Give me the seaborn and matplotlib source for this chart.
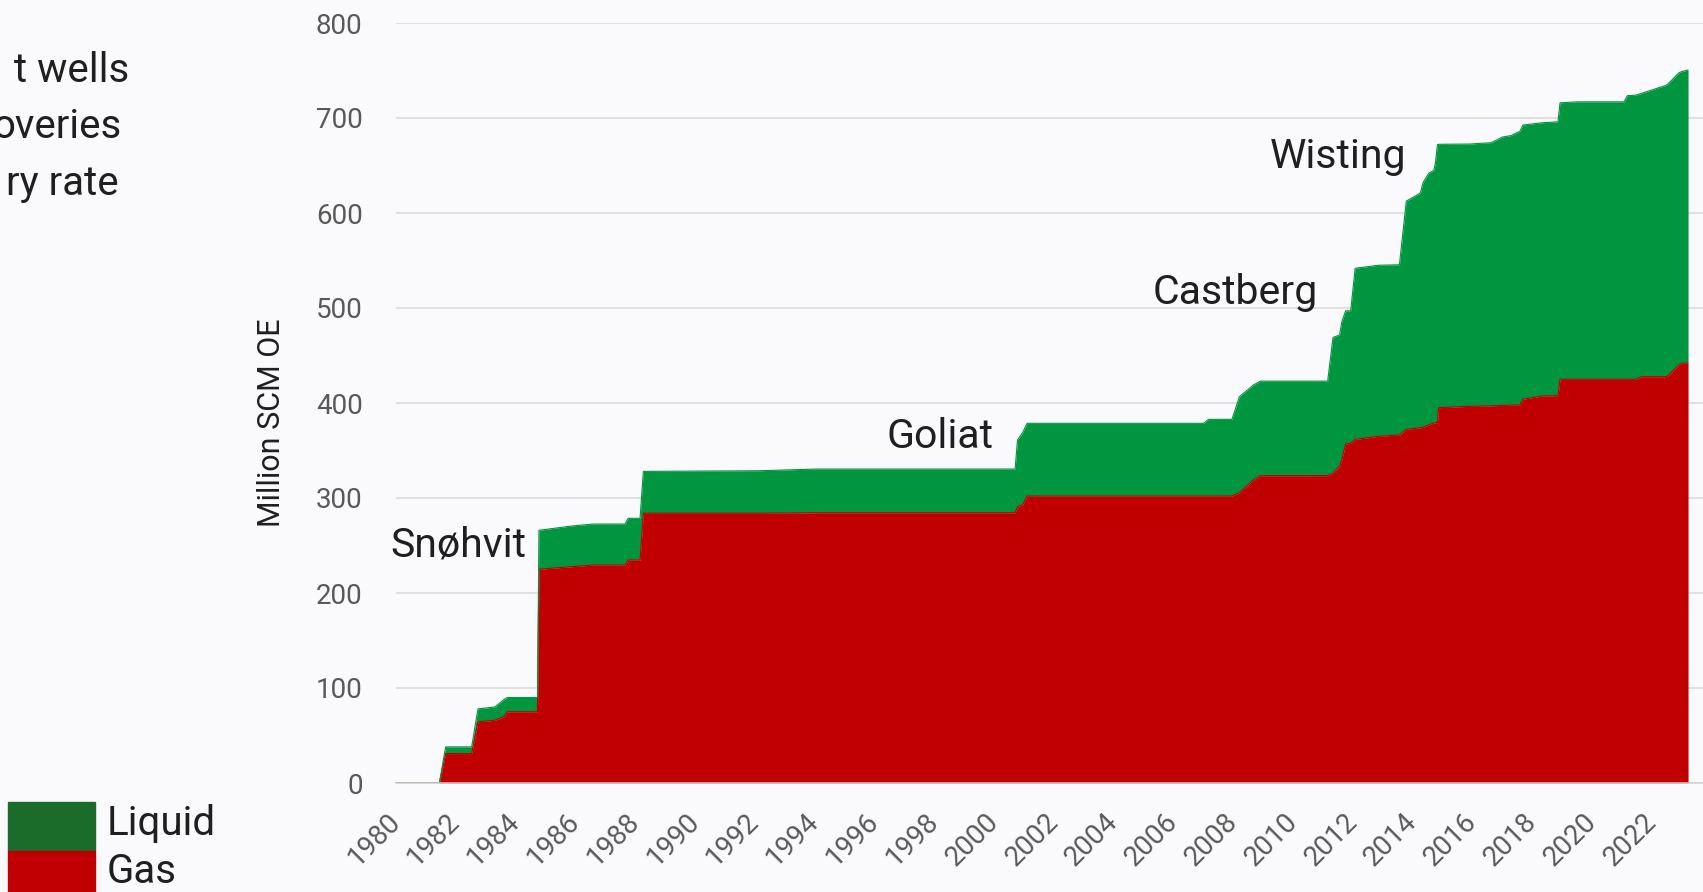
import matplotlib
matplotlib.use("Agg")
import matplotlib.pyplot as plt
import seaborn as sns
import pandas as pd
from matplotlib.patches import Rectangle

# cumulative discovered resources, Barents Sea (million Sm3 o.e.)
years = [1980.00, 1981.45, 1981.66, 1982.53, 1982.74, 1983.30, 1983.62, 1983.72,
         1984.73, 1984.78, 1985.87, 1986.60, 1987.66, 1987.76, 1988.16, 1988.27,
         1992.17, 1994.07, 2000.70, 2000.78, 2000.95, 2001.10, 2007.00, 2007.17,
         2007.95, 2008.20, 2008.67, 2008.90, 2011.15, 2011.33, 2011.55, 2011.62,
         2011.75, 2011.92, 2012.07, 2012.85, 2013.55, 2013.78, 2014.25, 2014.34,
         2014.53, 2014.70, 2014.75, 2014.82, 2014.86, 2015.90, 2016.62, 2017.00,
         2017.28, 2017.58, 2017.68, 2018.33, 2018.85, 2018.92, 2019.50, 2021.06,
         2021.17, 2021.45, 2021.65, 2022.40, 2022.50, 2022.90, 2023.00, 2023.20]
gas = [0, 0, 31, 31, 64.5, 66, 70, 75,
       75, 225, 227.7, 229.5, 229.5, 234.7, 234.7, 284,
       284, 284.5, 284.5, 291, 293, 302, 302, 302,
       302, 305.6, 319, 323.5, 323.5, 326, 333.7, 340,
       356.8, 357.6, 361.7, 365, 366.3, 372.3, 374, 374.5,
       377, 379, 379.3, 379.3, 395.1, 396.5, 397, 397.5,
       397.8, 398, 404, 407.4, 407.7, 425, 425, 425,
       425, 425, 427.7, 427.7, 428, 440, 442, 442]
total = [0, 0, 38, 38, 78, 80, 88, 90,
         90, 266, 270.5, 272.6, 272.6, 278.6, 278.6, 328,
         328.7, 330.5, 330.5, 361, 368.7, 378.6, 378.6, 382.8,
         382.8, 406.7, 419, 423, 423, 469, 471.6, 485,
         497, 497, 541.8, 545, 545.5, 612.5, 621, 632,
         641.8, 645, 652, 672, 672.3, 672.6, 674, 680,
         681.5, 686, 692.6, 695, 696, 716, 717, 717,
         723.5, 724, 726, 733.7, 735, 747.7, 749, 750.5]

fields = ["Snøhvit", "Goliat", "Castberg", "Wisting"]
field_pos = [(1979.8, 238), (1996.4, 353), (2005.3, 504), (2009.2, 647)]

left_text = ["t wells", "overies", "ry rate"]
year_ticks = list(range(1980, 2023, 2))

GAS = "#C00000"
LIQ = "#00953F"
BG = "#FAFAFC"

sns.set_theme(style="whitegrid", rc={
    "figure.facecolor": BG, "axes.facecolor": BG,
    "grid.color": "#D9D9D9", "grid.linewidth": 1.1,
})
plt.rcParams["font.family"] = ["Roboto", "DejaVu Sans"]

df = pd.DataFrame({"year": years, "gas": gas, "total": total})

fig = plt.figure(figsize=(17.03, 8.92), dpi=100)
ax = fig.add_axes([396 / 1703, 1 - 783 / 892, 1 - 396 / 1703, (783 - 23) / 892])

ax.fill_between(df.year, df.gas, df.total, color=LIQ, lw=0)
ax.fill_between(df.year, 0, df.gas, color=GAS, lw=0)
sns.lineplot(data=df, x="year", y="gas", color=GAS, lw=0.8, ax=ax)
sns.lineplot(data=df, x="year", y="total", color=LIQ, lw=0.8, ax=ax)

ax.set_xlim(1980, 2023.7)
ax.set_ylim(0, 800)
ax.set_yticks(range(0, 801, 100))
ax.set_xticks(year_ticks)
ax.grid(axis="x", visible=False)
ax.tick_params(length=0, labelsize=20, colors="#595959")
ax.tick_params(axis="y", pad=24)
ax.tick_params(axis="x", pad=25)
plt.setp(ax.get_xticklabels(), rotation=45, ha="right", va="center",
         rotation_mode="anchor")
for s in ["left", "right", "top"]:
    ax.spines[s].set_visible(False)
ax.spines["bottom"].set_color("#D0D0D0")
ax.spines["bottom"].set_linewidth(1.1)

ax.set_xlabel("")
ax.set_ylabel("Million SCM OE", fontsize=22, color="#1F1F1F", va="center")
ax.yaxis.set_label_coords(271 / 1703, 1 - 423 / 892, transform=fig.transFigure)

for name, (x, y) in zip(fields, field_pos):
    ax.text(x, y, name, fontsize=29.5, color="#1F1F1F", ha="left", va="baseline")

for txt, xr, yb in zip(left_text, [129, 122, 119], [82, 138, 195]):
    fig.text(xr / 1703, 1 - yb / 892, txt, fontsize=29, color="#1F1F1F",
             ha="right", va="baseline")

# legend, partly cut by the figure edge
fig.patches.append(Rectangle((8 / 1703, 41 / 892), 87 / 1703, 49 / 892,
                             transform=fig.transFigure, color="#1B6B2A", zorder=5))
fig.patches.append(Rectangle((8 / 1703, -10 / 892), 87 / 1703, 51 / 892,
                             transform=fig.transFigure, color=GAS, zorder=5))
fig.text(107 / 1703, 1 - 835 / 892, "Liquid", fontsize=29, color="#1F1F1F", va="baseline")
fig.text(107 / 1703, 1 - 883 / 892, "Gas", fontsize=29, color="#1F1F1F", va="baseline")

fig.savefig("out.png", dpi=100, facecolor=BG)
